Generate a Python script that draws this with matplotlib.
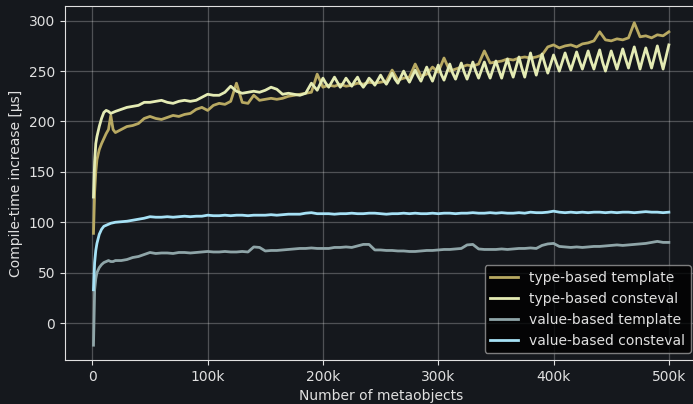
import numpy as np
import matplotlib
matplotlib.use("Agg")
import matplotlib.pyplot as plt
from matplotlib.ticker import FuncFormatter

# number of metaobjects (in thousands)
n_k = np.concatenate([[1, 2, 3, 4, 6, 8, 10, 12, 14, 16, 18, 20], np.arange(25, 505, 5)])
# the consteval type-based run is sampled more finely past 200k
n_k_fine = np.concatenate([[1, 2, 3, 4, 6, 8, 10, 12, 14, 16, 18, 20],
                           np.arange(25, 200, 5), np.arange(200, 502.5, 2.5)])

# compile-time increase [us]
type_template = [
    89, 130, 150, 162, 172, 178, 183, 188, 192, 206, 192, 189,
    192, 195, 196, 198, 203, 205, 203, 202, 204, 206,
    205, 207, 208, 212, 214, 211, 216, 218, 217, 220,
    238, 219, 218, 226, 221, 222, 223, 222, 223, 225,
    226, 227, 228, 229, 247, 234, 236, 235, 237, 235,
    236, 238, 237, 239, 238, 239, 240, 251, 241, 243,
    244, 257, 245, 247, 254, 249, 263, 250, 252, 254,
    256, 255, 257, 270, 258, 259, 260, 262, 261, 263,
    264, 263, 264, 266, 274, 276, 273, 275, 276, 274,
    277, 278, 280, 289, 281, 280, 282, 281, 283, 298,
    284, 285, 283, 286, 285, 289,
]
type_consteval = [
    125, 160, 178, 185, 195, 203, 209, 211, 210, 208, 209, 210,
    212, 214, 215, 216, 219, 219, 220, 221, 219, 218,
    220, 221, 220, 221, 224, 227, 226, 226, 229, 235,
    230, 228, 229, 230, 229, 231, 234, 232, 227, 228,
    227, 226, 228, 238, 231,
    # 200k .. 500k, every 2.5k
    243, 238, 234, 239, 244, 239, 234, 238,
    243, 239, 235, 240, 244, 238, 234, 238,
    243, 240, 236, 241, 246, 241, 237, 242,
    248, 242, 238, 244, 250, 244, 239, 245,
    251, 245, 240, 247, 254, 246, 240, 248,
    256, 247, 241, 249, 257, 248, 242, 250,
    258, 249, 242, 250, 259, 250, 243, 251,
    259, 250, 243, 252, 260, 251, 243, 253,
    262, 252, 244, 254, 264, 253, 244, 256,
    268, 256, 246, 257, 267, 257, 248, 257,
    266, 258, 250, 259, 268, 259, 251, 260,
    269, 260, 252, 261, 270, 260, 252, 262,
    271, 259, 250, 260, 270, 261, 252, 262,
    272, 262, 253, 264, 274, 263, 252, 263,
    273, 263, 253, 264, 275, 263, 252, 264,
    276,
]
value_template = [
    -22, 33, 44, 50, 55, 58, 60, 61, 62, 61, 61, 62,
    62, 63, 65, 66, 68, 70, 69, 69.5, 69.5, 69,
    70, 70, 69.5, 70, 70.5, 71, 70.5, 70.5, 71, 70.5,
    70.5, 71, 70.5, 75.5, 75, 71.5, 72, 72, 72.5, 73,
    73.5, 74, 74, 74.5, 74, 74, 74, 75, 75, 75.5,
    75, 76.5, 78, 78, 72.5, 72.5, 72, 72, 71.5, 71.5,
    71, 71, 71.5, 72, 72, 72.5, 73, 73, 73.5, 74,
    77.5, 78, 73.5, 73, 73, 73, 73.5, 73, 73.5, 74,
    74, 74.5, 74, 77, 78.5, 79, 76, 75.5, 75, 75.5,
    75, 75.5, 76, 76, 76.5, 77, 77.5, 77, 77.5, 78,
    78.5, 79, 80, 81, 80, 80,
]
value_consteval = [
    33, 60, 72, 79, 88, 93, 96, 97, 98, 99, 99.5, 100,
    100.5, 101, 102, 103, 104, 105.5, 105, 105, 105.5, 105,
    105.5, 106, 105.5, 106, 106, 107, 106.5, 106.5, 107, 106.5,
    107, 107, 106.5, 107, 107, 107, 107.5, 107, 107.5, 108,
    108, 108, 109, 109.5, 108.5, 108.5, 108.5, 108, 108.5, 108.5,
    109, 108.5, 108.5, 109, 109, 108.5, 108, 108.5, 108.5, 109,
    108.5, 109, 108.5, 108.5, 109, 108.5, 109, 109, 108.5, 109,
    109, 109.5, 109, 109, 109.5, 109, 109.5, 109, 109, 109.5,
    109, 110, 109.5, 109.5, 110, 111, 110, 109.5, 110, 109.5,
    110, 109.5, 110, 110, 109.5, 110, 109.5, 110, 110, 109.5,
    110, 110.5, 110, 110, 109.5, 110,
]

labels = ["type-based template", "type-based consteval",
          "value-based template", "value-based consteval"]
colors = ["#b8a962", "#e4ebb4", "#8fa5a8", "#a6e1f5"]

bg = "#15181d"
fg = "#e0e0e0"

fig = plt.figure(figsize=(6.93, 4.04), dpi=100, facecolor=bg)
ax = fig.add_axes([0.0938, 0.1089, 0.9128, 0.876])
ax.set_facecolor(bg)

xs = [n_k, n_k_fine, n_k, n_k]
series = [type_template, type_consteval, value_template, value_consteval]
for xk, ys, lab, c in zip(xs, series, labels, colors):
    ax.plot(xk * 1000, ys, color=c, lw=2, label=lab)

ax.set_xlim(-23.7e3, 524.9e3)
ax.set_ylim(-36.7, 314.5)
ax.set_xticks([0, 100e3, 200e3, 300e3, 400e3, 500e3])
ax.xaxis.set_major_formatter(FuncFormatter(lambda v, p: "0" if v == 0 else f"{v/1000:.0f}k"))

ax.grid(True, color="#ffffff", alpha=0.25, lw=0.9)
for s in ax.spines.values():
    s.set_color(fg)
ax.tick_params(colors=fg, labelsize=10)

ax.set_xlabel("Number of metaobjects", color=fg, fontsize=10)
ax.set_ylabel("Compile-time increase [µs]", color=fg, fontsize=10)

leg = ax.legend(loc="lower right", facecolor="black", edgecolor="#9a9a9a", fontsize=10)
for t in leg.get_texts():
    t.set_color(fg)

fig.savefig("out.png", dpi=100, facecolor=bg)
